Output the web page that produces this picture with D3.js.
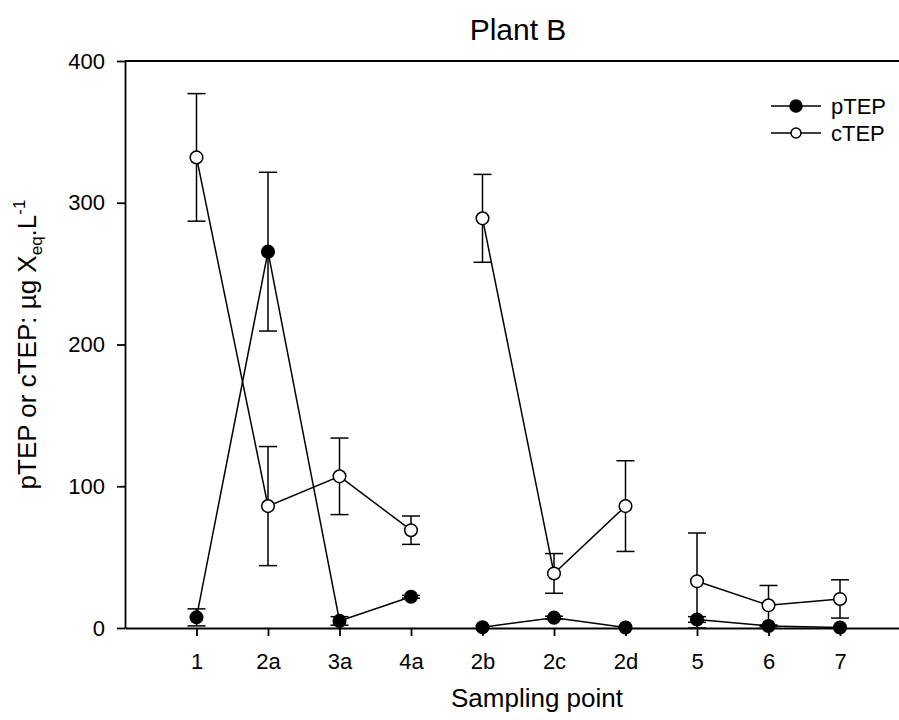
<!DOCTYPE html>
<html>
<head>
<meta charset="utf-8">
<script src="https://cdn.jsdelivr.net/npm/d3@7"></script>
<style>
  body { margin: 0; background: #fff; }
  svg { display: block; font-family: "Liberation Sans", Arial, sans-serif; }
</style>
</head>
<body>
<div id="chartContainer"></div>
<script>
// Sampling points along the plant (x axis)
const categories = ["1", "2a", "3a", "4a", "2b", "2c", "2d", "5", "6", "7"];
// points joined by a line (breaks between the groups)
const groups = [["1", "2a", "3a", "4a"], ["2b", "2c", "2d"], ["5", "6", "7"]];

// pTEP / cTEP, µg Xeq.L-1, with error bars
const pTEP = [7.5, 265.5, 5, 22, 0.5, 7.3, 0.3, 6, 1.4, 0.3];
const pTEPErr = [6, 56, 3, 1, 0, 1, 0, 2, 0.5, 0];
const cTEP = [332, 86, 107, 69, 289, 38.5, 86, 33, 16, 20.5];
const cTEPErr = [45, 42, 27, 10, 31, 14, 32, 34, 14, 13.5];

const yTicks = [0, 100, 200, 300, 400];

function createChart() {
    const width = 899;
    const height = 720;
    const marginTop = 61;
    const marginLeft = 125;
    const plotBottom = 628;
    const plotRight = 911.5;

    const x = d3.scalePoint()
        .domain(categories)
        .range([marginLeft, plotRight])
        .padding(1);

    const y = d3.scaleLinear()
        .domain([0, 400])
        .range([plotBottom, marginTop]);

    const svg = d3.create("svg")
        .attr("width", width)
        .attr("height", height)
        .attr("viewBox", [0, 0, width, height]);

    const series = [
        { name: "pTEP", values: pTEP, errors: pTEPErr, fill: "#000" },
        { name: "cTEP", values: cTEP, errors: cTEPErr, fill: "#fff" }
    ];
    series.forEach(s => {
        s.points = categories.map((c, i) => ({ cat: c, v: s.values[i], e: s.errors[i] }));
    });

    // axes
    svg.append("g")
        .attr("transform", `translate(0,${plotBottom})`)
        .call(d3.axisBottom(x).tickSize(8).tickSizeOuter(0).tickPadding(17))
        .call(g => g.selectAll("text").attr("font-size", 22).attr("fill", "#000").attr("font-family", null))
        .call(g => g.selectAll("line,path").attr("stroke", "#000").attr("stroke-width", 1.8));

    svg.append("g")
        .attr("transform", `translate(${marginLeft},0)`)
        .call(d3.axisLeft(y).tickValues(yTicks).tickSize(8).tickSizeOuter(0).tickPadding(12))
        .call(g => g.selectAll("text").attr("font-size", 22).attr("fill", "#000").attr("font-family", null))
        .call(g => g.selectAll("line,path").attr("stroke", "#000").attr("stroke-width", 1.8));

    // top frame line
    svg.append("line")
        .attr("x1", marginLeft).attr("x2", plotRight)
        .attr("y1", y(400)).attr("y2", y(400))
        .attr("stroke", "#000").attr("stroke-width", 1.8);

    const line = d3.line()
        .x(d => x(d.cat))
        .y(d => y(d.v));

    // connecting lines
    series.forEach(s => {
        groups.forEach(grp => {
            svg.append("path")
                .datum(s.points.filter(p => grp.includes(p.cat)))
                .attr("fill", "none")
                .attr("stroke", "#000")
                .attr("stroke-width", 1.5)
                .attr("d", line);
        });
    });

    // error bars
    const cap = 9;
    series.forEach(s => {
        const eb = svg.append("g").attr("stroke", "#000").attr("stroke-width", 1.5);
        s.points.filter(p => p.e > 0).forEach(p => {
            const cx = x(p.cat);
            const hi = y(p.v + p.e);
            const lo = y(Math.max(0, p.v - p.e));
            eb.append("line").attr("x1", cx).attr("x2", cx).attr("y1", hi).attr("y2", lo);
            eb.append("line").attr("x1", cx - cap).attr("x2", cx + cap).attr("y1", hi).attr("y2", hi);
            eb.append("line").attr("x1", cx - cap).attr("x2", cx + cap).attr("y1", lo).attr("y2", lo);
        });
    });

    // markers (open circles below filled ones)
    [series[1], series[0]].forEach(s => {
        svg.append("g")
            .selectAll("circle")
            .data(s.points)
            .join("circle")
            .attr("cx", d => x(d.cat))
            .attr("cy", d => y(d.v))
            .attr("r", 6.3)
            .attr("fill", s.fill)
            .attr("stroke", "#000")
            .attr("stroke-width", 1.5);
    });

    // title
    svg.append("text")
        .attr("x", 518).attr("y", 40)
        .attr("text-anchor", "middle")
        .attr("font-size", 30)
        .text("Plant B");

    // x label
    svg.append("text")
        .attr("x", 537).attr("y", 707)
        .attr("text-anchor", "middle")
        .attr("font-size", 26)
        .text("Sampling point");

    // y label
    const yl = svg.append("text")
        .attr("transform", `translate(36,${(marginTop + plotBottom) / 2}) rotate(-90)`)
        .attr("text-anchor", "middle")
        .attr("font-size", 26);
    yl.append("tspan").text("pTEP or cTEP: µg X");
    yl.append("tspan").attr("font-size", 17).attr("dy", 6).text("eq");
    yl.append("tspan").attr("dy", -6).text(".L");
    yl.append("tspan").attr("font-size", 17).attr("dy", -11).text("-1");

    // legend
    const legend = svg.append("g").attr("transform", "translate(771,106)");
    series.forEach((s, i) => {
        const row = legend.append("g").attr("transform", `translate(0,${i * 27})`);
        row.append("line").attr("x1", 0).attr("x2", 50)
            .attr("stroke", "#000").attr("stroke-width", 1.5);
        row.append("circle").attr("cx", 25).attr("r", i === 0 ? 6 : 5)
            .attr("fill", s.fill).attr("stroke", "#000").attr("stroke-width", 1.5);
        row.append("text").attr("x", 60).attr("dy", "0.35em")
            .attr("font-size", 22).text(s.name);
    });

    return svg.node();
}

document.getElementById("chartContainer").appendChild(createChart());
</script>
</body>
</html>
